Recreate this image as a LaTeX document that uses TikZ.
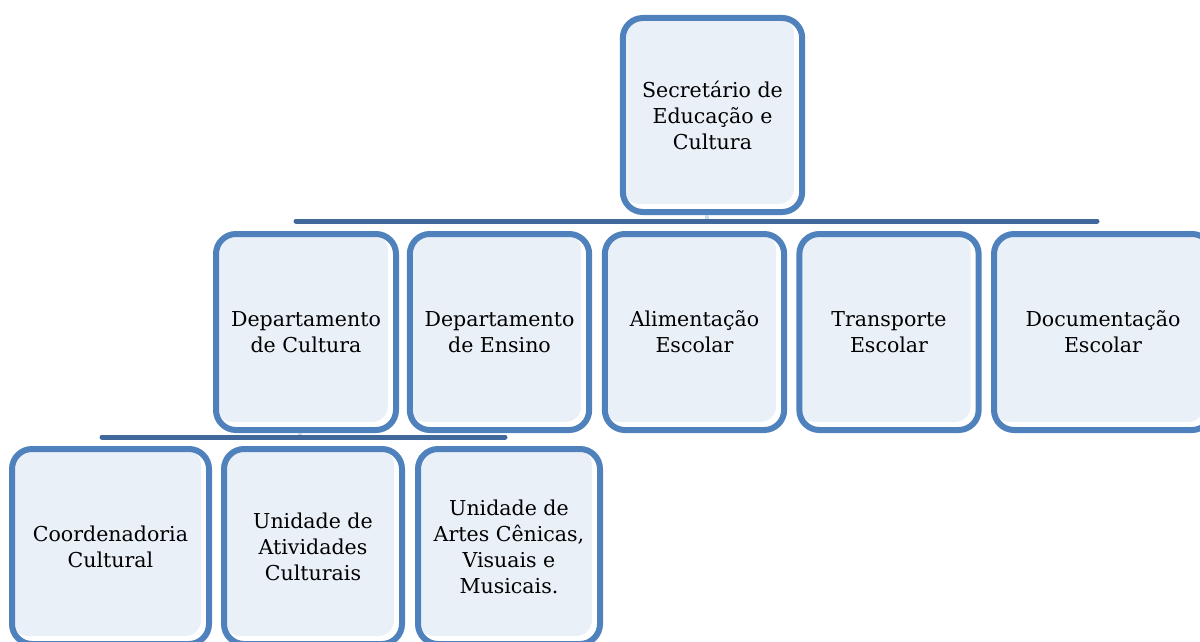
\documentclass[tikz,border=0pt]{standalone}
\usepackage{fontspec}
\setmainfont{DejaVu Serif}
\definecolor{boxline}{RGB}{79,129,189}
\definecolor{boxfill}{RGB}{234,240,248}
\definecolor{barline}{RGB}{65,104,154}
\definecolor{stubline}{RGB}{205,218,236}
\tikzset{every picture/.style={line width=0.75pt}}
\tikzset{
  orgbox/.style={draw=boxline, line width=4.5pt, rounded corners=15pt, fill=white,
    align=center, inner sep=0pt, font=\fontsize{15.4}{19.5}\selectfont,
    minimum width=134.5pt, minimum height=147pt,
    path picture={\fill[boxfill, rounded corners=12pt] (path picture bounding box.north west) rectangle ([xshift=-6pt,yshift=6pt]path picture bounding box.south east);}},
  orgbar/.style={draw=barline, line width=3.75pt, line cap=round},
  orgstub/.style={draw=stubline, line width=3pt}
}
\begin{document}
\begin{tikzpicture}[x=0.75pt,y=0.75pt,yscale=-1,xscale=1]
\useasboundingbox (0,0) rectangle (1200,642);

%Shape: Rounded Rect [id:sec]
\node (sec) [orgbox, minimum height=145.5pt] at (712.5,115) {Secretário de\\Educação e\\Cultura};

%Shape: Rounded Rect [id:row2]
\node (dcult) [orgbox, minimum width=135pt] at (306,332) {Departamento\\de Cultura};
\node (dens) [orgbox] at (499.5,332) {Departamento\\de Ensino};
\node (alim) [orgbox] at (694.5,332) {Alimentação\\Escolar};
\node (transp) [orgbox] at (889,332) {Transporte\\Escolar};
\node (docum) [orgbox, minimum width=163.5pt] at (1103,332) {Documentação\\Escolar};

%Shape: Rounded Rect [id:row3]
\node (coord) [orgbox, minimum width=147.75pt, minimum height=146.25pt] at (110.5,546.5) {Coordenadoria\\Cultural};
\node (ativ) [orgbox, minimum width=133.5pt, minimum height=146.25pt] at (313,546.5) {Unidade de\\Atividades\\Culturais};
\node (artes) [orgbox, minimum width=136.5pt, minimum height=146.25pt] at (509,546.5) {Unidade de\\Artes Cênicas,\\Visuais e\\Musicais.};

%Straight Lines [id:bars]
\coordinate (bara) at (296,221);
\coordinate (barb) at (1097,221);
\coordinate (barc) at (102,437);
\coordinate (bard) at (505,437);
\draw [orgstub] ([xshift=-4.5pt]sec.south) -- ([xshift=-4.5pt]sec.south |- bara);
\draw [orgstub] ([xshift=-4.5pt]dcult.south) -- ([xshift=-4.5pt]dcult.south |- barc);
\draw [orgbar] (bara) -- (barb);
\draw [orgbar] (barc) -- (bard);

\end{tikzpicture}
\end{document}
